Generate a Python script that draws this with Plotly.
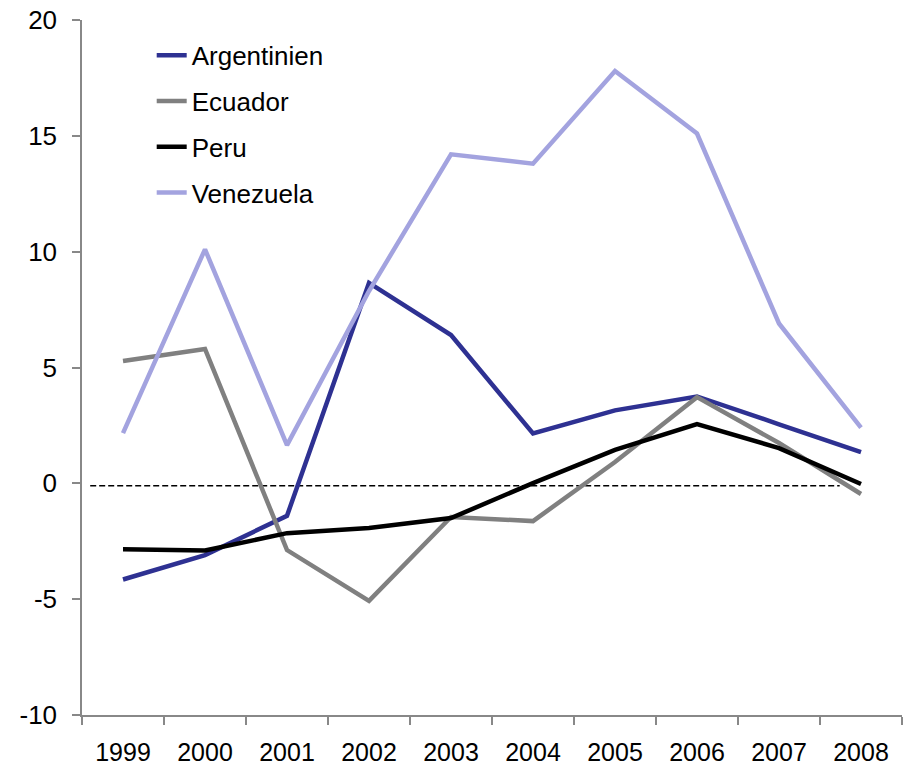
import plotly.graph_objects as go

years = ["1999", "2000", "2001", "2002", "2003", "2004", "2005", "2006", "2007", "2008"]
argentinien = [-4.15, -3.1, -1.4, 8.65, 6.4, 2.15, 3.15, 3.75, 2.55, 1.35]
ecuador = [5.28, 5.8, -2.88, -5.07, -1.45, -1.63, 0.92, 3.72, 1.74, -0.46]
peru = [-2.84, -2.9, -2.15, -1.93, -1.5, 0.01, 1.44, 2.56, 1.52, -0.03]
venezuela = [2.17, 10.1, 1.65, 8.3, 14.2, 13.8, 17.8, 15.1, 6.9, 2.4]
y_ticks = [-10, -5, 0, 5, 10, 15, 20]
y_tick_labels = ["-10", "-5", "0", "5", "10", "15", "20"]

series = [
    ("Argentinien", argentinien, "#2E3192"),
    ("Ecuador", ecuador, "#808080"),
    ("Peru", peru, "#000000"),
    ("Venezuela", venezuela, "#A3A3DF"),
]

fig = go.Figure()
for name, vals, color in series:
    fig.add_trace(go.Scatter(
        x=years, y=vals, name=name, mode="lines",
        line=dict(color=color, width=4.5),
        legendgroup=name,
    ))

fig.add_shape(type="line", xref="paper", yref="y", x0=0.01, x1=0.924, y0=-0.1, y1=-0.1,
              line=dict(color="black", width=1.5, dash="6px,3px"), layer="below")

axis_font = dict(family="Liberation Sans, Arial, sans-serif", size=26, color="black")
x_font = dict(family="Liberation Sans, Arial, sans-serif", size=25, color="black")
fig.update_layout(
    width=906, height=768,
    margin=dict(l=82, r=4, t=20, b=53),
    paper_bgcolor="white", plot_bgcolor="white",
    font=axis_font,
    showlegend=True,
    legend=dict(x=0.085, y=0.983, xanchor="left", yanchor="top",
                font=axis_font, tracegroupgap=9, bgcolor="rgba(0,0,0,0)"),
    xaxis=dict(type="category", range=[-0.5, 9.5], showgrid=False, showline=True,
               linecolor="#888888", linewidth=1.5, automargin=False,
               ticks="outside", tickson="boundaries", ticklen=8, tickcolor="#888888", tickwidth=1.5,
               tickfont=x_font, ticklabelstandoff=14, zeroline=False),
    yaxis=dict(range=[-10, 20], tickvals=y_ticks, ticktext=y_tick_labels, showgrid=False,
               showline=True, linecolor="#888888", linewidth=1.5, ticks="outside", ticklen=8,
               tickcolor="#888888", tickwidth=1.5, tickfont=axis_font, zeroline=False,
               ticklabelstandoff=10, automargin=False),
)

fig.write_html("out.html", config={"displayModeBar": False},
               post_script="document.body.style.margin='0';")
